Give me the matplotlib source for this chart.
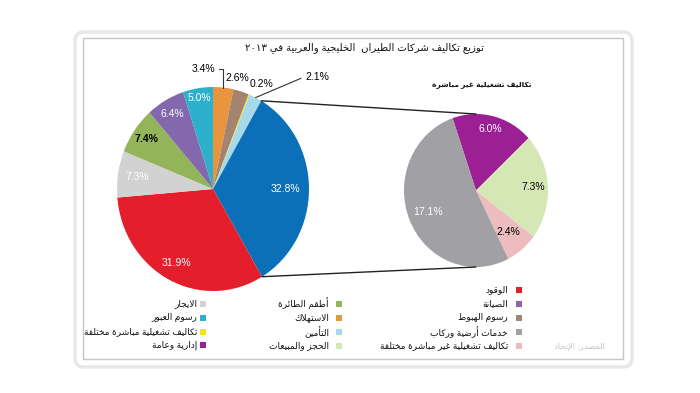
import re
import numpy as np
import matplotlib.pyplot as plt
from matplotlib.patches import FancyBboxPatch, Rectangle, ConnectionPatch

plt.rcParams['font.family'] = ['Liberation Sans', 'DejaVu Sans']

# ---- data ----
title = 'توزيع تكاليف شركات الطيران  الخليجية والعربية في ٢٠١٣'
sub_title = 'تكاليف تشغيلية غير مباشرة'
source = 'المصدر: الإتحاد'

RED, PURPLE, BROWN, GRAY, PINK = '#e41e2a', '#8468ae', '#a4846e', '#a1a1a5', '#ecbcbf'
GREEN, ORANGE, LBLUE, LGREEN = '#94b45a', '#e8963e', '#a8d9ea', '#d6e7b6'
LGRAY, TEAL, YELLOW, MAGENTA = '#d2d2d2', '#2cb0cc', '#f2e41e', '#9c2094'
BLUE = '#0b70b8'

# main pie, clockwise from 12 o'clock (blue = indirect operating costs)
main_values = [3.4, 2.6, 0.2, 2.1, 32.8, 31.9, 7.3, 7.4, 6.4, 5.0]
main_colors = [ORANGE, BROWN, YELLOW, LBLUE, BLUE, RED, LGRAY, GREEN, PURPLE, TEAL]

# breakdown of the blue slice
sub_values = [6.0, 7.3, 2.4, 17.1]
sub_colors = [MAGENTA, LGREEN, PINK, GRAY]

legend_right = ['الوقود', 'الصيانة', 'رسوم الهبوط', 'خدمات أرضية وركاب',
                'تكاليف تشغيلية غير مباشرة مختلفة']
legend_right_colors = [RED, PURPLE, BROWN, GRAY, PINK]
legend_mid = ['أطقم الطائرة', 'الاستهلاك', 'التأمين', 'الحجز والمبيعات']
legend_mid_colors = [GREEN, ORANGE, LBLUE, LGREEN]
legend_left = ['الايجار', 'رسوم العبور', 'تكاليف تشغيلية مباشرة مختلفة', 'إدارية وعامة']
legend_left_colors = [LGRAY, TEAL, YELLOW, MAGENTA]

# ---- arabic shaping (matplotlib has no RTL / joining support) ----
FORMS_B = {}
code = 0xFE80
for ch, n in zip('ءآأؤإئابةتثجحخدذرزسشصضطظعغفقكلمنهوىي',
                 [1, 2, 2, 2, 2, 4, 2, 4, 2, 4, 4, 4, 4, 4, 2, 2, 2, 2, 4, 4,
                  4, 4, 4, 4, 4, 4, 4, 4, 4, 4, 4, 4, 4, 2, 2, 4]):
    FORMS_B[ch] = [chr(code + k) for k in range(n)]
    code += n
LAM_ALEF = {'آ': 0xFEF5, 'أ': 0xFEF7, 'إ': 0xFEF9, 'ا': 0xFEFB}


def ar(text):
    units = []
    i = 0
    while i < len(text):
        if text[i] == 'ل' and i + 1 < len(text) and text[i + 1] in LAM_ALEF:
            units.append(text[i:i + 2])
            i += 2
        else:
            units.append(text[i])
            i += 1
    out = []
    for k, u in enumerate(units):
        prev = units[k - 1] if k > 0 else ''
        nxt = units[k + 1] if k + 1 < len(units) else ''
        jp = prev in FORMS_B and len(FORMS_B[prev]) == 4
        if len(u) == 2:
            out.append(chr(LAM_ALEF[u[1]] + jp))
            continue
        if u not in FORMS_B or u == 'ء':
            out.append(FORMS_B[u][0] if u == 'ء' else u)
            continue
        forms = FORMS_B[u]
        jn = len(forms) == 4 and (len(nxt) == 2 or (nxt in FORMS_B and nxt != 'ء'))
        if jp and jn:
            out.append(forms[3])
        elif jp:
            out.append(forms[1])
        elif jn:
            out.append(forms[2])
        else:
            out.append(forms[0])
    runs = re.findall(r'[0-9\u0660-\u0669]+|[^0-9\u0660-\u0669]+', ''.join(out))
    return ''.join(r if r[0].isdigit() else r[::-1] for r in reversed(runs))


fig = plt.figure(figsize=(7, 3.93), dpi=100)

# background axes in pixel coordinates (y down like the image)
bg = fig.add_axes([0, 0, 1, 1])
bg.set_xlim(0, 700)
bg.set_ylim(393, 0)
bg.axis('off')
bg.add_patch(FancyBboxPatch((75, 32), 557, 335, boxstyle='round,pad=0,rounding_size=9',
                            fc='white', ec='#e8e8e8', lw=2.5))
bg.add_patch(Rectangle((83, 38), 540, 321, fill=False, ec='#c6c6c6', lw=1))
bg.text(364, 48, ar(title), ha='center', va='center', fontsize=7.3, color='#111111')
bg.text(482, 85, ar(sub_title), ha='center', va='center', fontsize=5.4, color='#111111',
        fontweight='bold')
bg.text(580, 347, ar(source), ha='center', va='center', fontsize=6, color='#c4c4c4')

for names, cols, mx, tx, rows in [
        (legend_right, legend_right_colors, 519, 508, [290, 304, 318, 332, 346]),
        (legend_mid, legend_mid_colors, 339, 329, [304, 318, 332, 346]),
        (legend_left, legend_left_colors, 203, 197, [304, 318, 332, 345])]:
    for name, c, y in zip(names, cols, rows):
        bg.scatter([mx], [y], s=14, marker='s', color=c, linewidths=0)
        bg.text(tx, y, ar(name), ha='right', va='center', fontsize=6.5, color='#111111')

# main pie
ax1 = fig.add_axes([117 / 700, (393 - 291) / 393, 192 / 700, 204 / 393])
w1, _ = ax1.pie(main_values, colors=main_colors, startangle=90, counterclock=False,
                wedgeprops=dict(linewidth=0))
ax1.set_aspect('auto')
ax1.set_xlim(-1, 1)
ax1.set_ylim(-1, 1)
ax1.axis('off')

inside_dist = {4: 0.76, 5: 0.82, 6: 0.8, 7: 0.85, 8: 0.85, 9: 0.9}
inside_col = {4: 'white', 5: 'white', 6: 'white', 7: 'black', 8: 'white', 9: 'white'}
for i, w in enumerate(w1):
    if i not in inside_dist:
        continue
    a = np.deg2rad((w.theta1 + w.theta2) / 2)
    d = inside_dist[i]
    ax1.text(d * np.cos(a), d * np.sin(a), f'{main_values[i]:.1f}%', ha='center',
             va='center', fontsize=7.5, color=inside_col[i],
             fontweight='bold' if inside_col[i] == 'black' else 'normal')


def edge(w):
    a = np.deg2rad((w.theta1 + w.theta2) / 2)
    return (np.cos(a), np.sin(a))


# small slices labelled outside
ax1.annotate(f'{main_values[0]:.1f}%', xy=edge(w1[0]), xytext=(0.02, 1.18), ha='right',
             va='center', fontsize=7.5, annotation_clip=False,
             arrowprops=dict(arrowstyle='-', color='#333333', lw=0.8, relpos=(1, 0.5),
                             connectionstyle='angle,angleA=0,angleB=90,rad=0',
                             shrinkA=1, shrinkB=0))
ax1.text(0.25, 1.09, f'{main_values[1]:.1f}%', ha='center', va='center', fontsize=7.5)
ax1.text(0.5, 1.03, f'{main_values[2]:.1f}%', ha='center', va='center', fontsize=7.5)
ax1.annotate(f'{main_values[3]:.1f}%', xy=edge(w1[3]), xytext=(0.96, 1.1), ha='left',
             va='center', fontsize=7.5, annotation_clip=False,
             arrowprops=dict(arrowstyle='-', color='#333333', lw=0.8, relpos=(0, 0.4),
                             connectionstyle='angle,angleA=0,angleB=23,rad=0',
                             shrinkA=1, shrinkB=0))

# breakdown pie
ax2 = fig.add_axes([404 / 700, (393 - 267) / 393, 144 / 700, 153 / 393])
w2, _ = ax2.pie(sub_values, colors=sub_colors, startangle=109, counterclock=False,
                wedgeprops=dict(linewidth=0))
ax2.set_aspect('auto')
ax2.set_xlim(-1, 1)
ax2.set_ylim(-1, 1)
ax2.axis('off')
sub_dist = [0.83, 0.8, 0.71, 0.73]
sub_txt = ['white', 'black', 'black', 'white']
for w, v, d, c in zip(w2, sub_values, sub_dist, sub_txt):
    a = np.deg2rad((w.theta1 + w.theta2) / 2)
    ax2.text(d * np.cos(a), d * np.sin(a), f'{v:.1f}%', ha='center', va='center',
             fontsize=7.5, color=c)

# lines joining the blue slice to the breakdown pie
blue = w1[4]
for th, yb in [(blue.theta2, 1), (blue.theta1, -1)]:
    t = np.deg2rad(th)
    con = ConnectionPatch(xyA=(np.cos(t), np.sin(t)), coordsA=ax1.transData,
                          xyB=(0, yb), coordsB=ax2.transData, color='#222222', lw=1)
    fig.add_artist(con)

fig.savefig('out.png', dpi=100)
